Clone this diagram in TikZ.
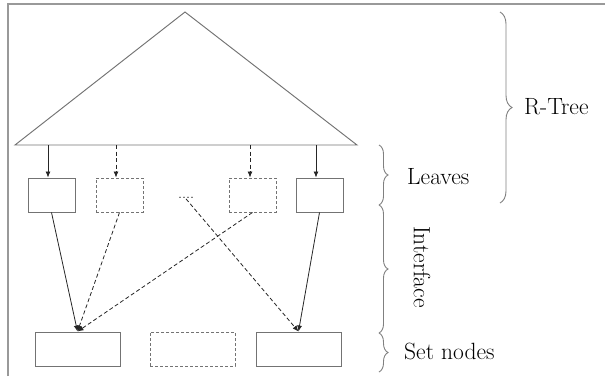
\documentclass[tikz,border=0pt]{standalone}
\usetikzlibrary{decorations.pathreplacing,arrows.meta}
\begin{document}
\begin{tikzpicture}[x=1pt,y=-1pt,
  frameline/.style={draw=black!40,line width=1.3pt},
  leafbox/.style={draw=black!55,line width=0.95pt,minimum width=47pt,minimum height=34pt,inner sep=0pt},
  setbox/.style={draw=black!55,line width=0.95pt,minimum width=85pt,minimum height=34pt,inner sep=0pt},
  dbox/.style={dash pattern=on 3pt off 2pt},
  conn/.style={draw=black!85,line width=0.8pt,-{Latex[length=6pt,width=5pt]}},
  dconn/.style={conn,dash pattern=on 4pt off 2.5pt},
  bracesty/.style={draw=black!50,line width=0.9pt,decorate,decoration={brace,amplitude=#1}},
  lbl/.style={font=\fontsize{23.5}{28}\selectfont,inner sep=0pt}
]
\useasboundingbox (0,0) rectangle (605,376);
% frame
\draw[frameline] (8,376) -- (8,4) -- (605,4);
% triangle
\coordinate (apex) at (185,12);
\coordinate (bl) at (15,145);
\coordinate (br) at (357,145);
\draw[draw=black!55,line width=0.95pt] (bl) -- (apex) -- (br) -- cycle;
\coordinate (t1) at (48,145);
\coordinate (t2) at (116,145);
\coordinate (t3) at (250,145);
\coordinate (t4) at (316,145);
% leaves
\node[leafbox] (leaf1) at (51.5,195) {};
\node[leafbox,dbox] (leaf2) at (119.5,195) {};
\node[leafbox,dbox] (leaf3) at (252.5,195) {};
\node[leafbox] (leaf4) at (319.5,195) {};
\node[font=\fontsize{16}{18}\selectfont,inner sep=0pt] (dots) at (186,198) {....};
% set nodes
\node[setbox] (set1) at (77.5,349) {};
\node[setbox,dbox] (set2) at (192.5,349) {};
\node[setbox] (set3) at (298.5,349) {};
% arrows from tree
\draw[conn] (t1) -- (t1 |- leaf1.north);
\draw[dconn] (t2) -- (t2 |- leaf2.north);
\draw[dconn] (t3) -- (t3 |- leaf3.north);
\draw[conn] (t4) -- (t4 |- leaf4.north);
% interface arrows
\draw[conn] (leaf1.south) -- (set1.north);
\draw[dconn] (leaf2.south) -- (set1.north);
\draw[dconn] (leaf3.south) -- (set1.north);
\draw[dconn] (dots.south) -- (set3.north);
\draw[conn] (leaf4.south) -- (set3.north);
% braces
\coordinate (rb1) at (500,12); \coordinate (rb2) at (500,203);
\draw[bracesty=12pt] (rb1) -- (rb2);
\coordinate (b1) at (379,145); \coordinate (b2) at (379,205);
\coordinate (b3) at (379,333); \coordinate (b4) at (379,372);
\draw[bracesty=9pt] (b1) -- (b2);
\draw[bracesty=9pt] (b2) -- (b3);
\draw[bracesty=9pt] (b3) -- (b4);
% labels
\node[lbl,anchor=west] (rtree) at (524,107) {R-Tree};
\node[lbl,anchor=west] (leaves) at (407,177) {Leaves};
\node[lbl,rotate=-90] (iface) at (422,267) {Interface};
\node[lbl,anchor=west] (setn) at (404,351) {Set nodes};
\end{tikzpicture}
\end{document}
